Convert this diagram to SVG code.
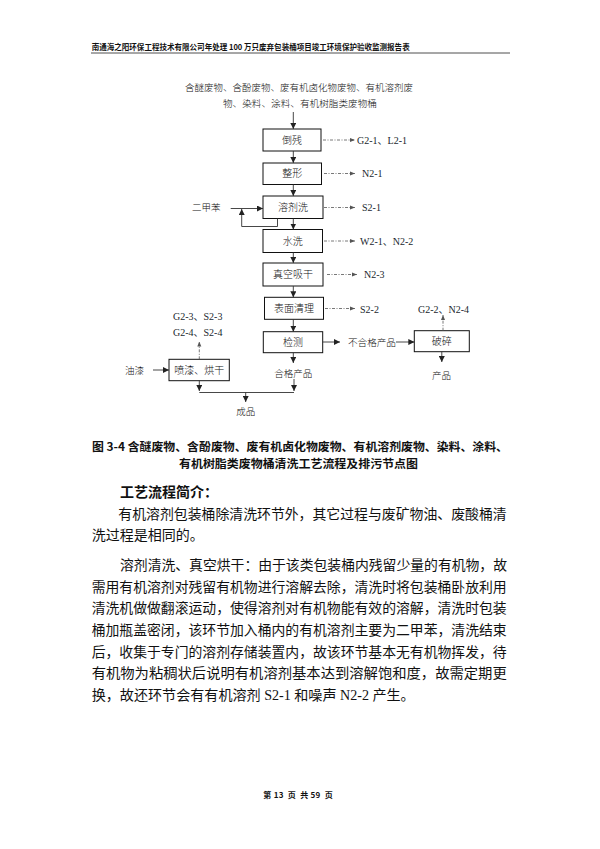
<svg xmlns="http://www.w3.org/2000/svg" width="600" height="849" viewBox="0 0 600 849">
<style>
.cn{font-family:"Noto Sans CJK SC","Liberation Sans",sans-serif;fill:#111}
.lat{font-family:"Liberation Serif","Noto Sans CJK SC",serif;fill:#1a1f2e}
.box{fill:#fff;stroke:#111;stroke-width:1}
.bl{font-family:"Noto Sans CJK SC",sans-serif;font-size:10px;fill:#111;text-anchor:middle;font-weight:300}
.ln{fill:none;stroke:#333;stroke-width:0.9}
.dt{fill:none;stroke:#555;stroke-width:0.8;stroke-dasharray:3,1.5,1,1.5}
.body{font-family:"Liberation Serif","Noto Sans CJK SC",serif;font-size:14px;fill:#111}
.lt{font-weight:300}
</style>
<defs>
<marker id="ah" markerUnits="userSpaceOnUse" markerWidth="6" markerHeight="6" refX="6" refY="3" orient="auto">
<path d="M0,0 L6,3 L0,6 z" fill="#222"/>
</marker>
<marker id="ahs" markerUnits="userSpaceOnUse" markerWidth="5" markerHeight="5" refX="5" refY="2.5" orient="auto">
<path d="M0,0.5 L5,2.5 L0,4.5 z" fill="#555"/>
</marker>
</defs>
<rect width="600" height="849" fill="#fff"/>

<g id="header">
<text class="cn" x="91.7" y="49.5" font-size="8" font-weight="bold" textLength="318" lengthAdjust="spacingAndGlyphs">南通海之阳环保工程技术有限公司年处理 100 万只废弃包装桶项目竣工环境保护验收监测报告表</text>
<line x1="91" y1="53" x2="510" y2="53" stroke="#222" stroke-width="0.8"/>
</g>

<g id="input">
<text class="cn lt" x="185" y="90.5" font-size="9.3" textLength="228" lengthAdjust="spacingAndGlyphs">含醚废物、含酚废物、废有机卤化物废物、有机溶剂废</text>
<text class="cn lt" x="223" y="106.5" font-size="9.3" textLength="154" lengthAdjust="spacingAndGlyphs">物、染料、涂料、有机树脂类废物桶</text>
</g>

<g id="n-daocan"><rect class="box" x="263" y="129" width="58" height="22"/><text class="bl" x="292" y="143.5">倒残</text></g>
<g id="n-zhengxing"><rect class="box" x="263" y="163" width="58.5" height="21.5"/><text class="bl" x="292.2" y="177.3">整形</text></g>
<g id="n-rongjixi"><rect class="box" x="263" y="196" width="60" height="22.5"/><text class="bl" x="293" y="210.7">溶剂洗</text></g>
<g id="n-shuixi"><rect class="box" x="263" y="229.5" width="59.5" height="23"/><text class="bl" x="292.7" y="244.5">水洗</text></g>
<g id="n-zhenkong"><rect class="box" x="263" y="263" width="60" height="23"/><text class="bl" x="293" y="278">真空吸干</text></g>
<g id="n-biaomian"><rect class="box" x="264.5" y="297.3" width="59" height="22"/><text class="bl" x="294" y="311.8">表面清理</text></g>
<g id="n-jiance"><rect class="box" x="263.3" y="331.7" width="59.4" height="21"/><text class="bl" x="293" y="345.7">检测</text></g>
<g id="n-posui"><rect class="box" x="414.3" y="330.7" width="55" height="21"/><text class="bl" x="441.8" y="344.7">破碎</text></g>
<g id="n-penqi"><rect class="box" x="169" y="359.3" width="60.3" height="21.4"/><text class="bl" x="199.2" y="373.5">喷漆、烘干</text></g>

<g id="labels">
<text class="lat" x="357" y="143.5" font-size="10">G2-1、L2-1</text>
<text class="lat" x="362" y="177" font-size="10">N2-1</text>
<text class="lat" x="362" y="211" font-size="10">S2-1</text>
<text class="lat" x="360" y="245" font-size="10">W2-1、N2-2</text>
<text class="lat" x="364" y="278" font-size="10">N2-3</text>
<text class="lat" x="360" y="312.5" font-size="10">S2-2</text>
<text class="lat" x="418" y="312.5" font-size="10">G2-2、N2-4</text>
<text class="lat" x="173" y="320" font-size="10">G2-3、S2-3</text>
<text class="lat" x="173" y="335.7" font-size="10">G2-4、S2-4</text>
<text class="cn lt" x="192" y="210.8" font-size="9.5">二甲苯</text>
<text class="cn lt" x="125" y="373.5" font-size="9.5">油漆</text>
<text class="cn lt" x="348" y="345.5" font-size="9.6">不合格产品</text>
<text class="cn lt" x="293.3" y="376.5" font-size="9.5" text-anchor="middle">合格产品</text>
<text class="cn lt" x="441.5" y="378.5" font-size="9.5" text-anchor="middle">产品</text>
<text class="cn lt" x="245.7" y="415" font-size="9.5" text-anchor="middle">成品</text>
</g>

<g id="connectors">
<line class="ln" x1="293.3" y1="112" x2="293.3" y2="129" marker-end="url(#ah)"/>
<line class="ln" x1="293.3" y1="151" x2="293.3" y2="163" marker-end="url(#ah)"/>
<line class="ln" x1="293.3" y1="184.5" x2="293.3" y2="196" marker-end="url(#ah)"/>
<line class="ln" x1="293.3" y1="218.5" x2="293.3" y2="229.5" marker-end="url(#ah)"/>
<line class="ln" x1="293.3" y1="252.5" x2="293.3" y2="263" marker-end="url(#ah)"/>
<line class="ln" x1="293.3" y1="286" x2="293.3" y2="297.3" marker-end="url(#ah)"/>
<line class="ln" x1="293.3" y1="319.3" x2="293.3" y2="331.7" marker-end="url(#ah)"/>
<line class="ln" x1="293.3" y1="352.7" x2="293.3" y2="363" marker-end="url(#ah)"/>
<line class="ln" x1="230.7" y1="208.5" x2="263" y2="208.5" marker-end="url(#ah)"/>
<polyline class="ln" points="277.5,218.5 277.5,226.5 241.7,226.5 241.7,209" marker-end="url(#ah)"/>
<line class="ln" x1="322.7" y1="342" x2="340" y2="342" marker-end="url(#ah)"/>
<line class="ln" x1="396" y1="342" x2="414.3" y2="342" marker-end="url(#ah)"/>
<line class="ln" x1="441.8" y1="351.7" x2="441.8" y2="362" marker-end="url(#ah)"/>
<line class="ln" x1="153" y1="370" x2="169" y2="370" marker-end="url(#ah)"/>
<line class="ln" x1="199.3" y1="380.7" x2="199.3" y2="391" marker-end="url(#ah)"/>
<line class="ln" x1="294" y1="379" x2="294" y2="391" marker-end="url(#ah)"/>
<line class="ln" x1="199.3" y1="392.5" x2="294" y2="392.5"/>
<line class="ln" x1="245.7" y1="392.5" x2="245.7" y2="402" marker-end="url(#ah)"/>
<line class="dt" x1="323" y1="140" x2="355" y2="140" marker-end="url(#ahs)"/>
<line class="dt" x1="324" y1="173.5" x2="355" y2="173.5" marker-end="url(#ahs)"/>
<line class="dt" x1="324" y1="207.5" x2="355" y2="207.5" marker-end="url(#ahs)"/>
<line class="dt" x1="324" y1="241" x2="355" y2="241" marker-end="url(#ahs)"/>
<line class="dt" x1="327" y1="274.5" x2="357" y2="274.5" marker-end="url(#ahs)"/>
<line class="dt" x1="325" y1="308.5" x2="355" y2="308.5" marker-end="url(#ahs)"/>
<line class="dt" x1="443" y1="330.7" x2="443" y2="315" marker-end="url(#ahs)"/>
<line class="dt" x1="199.3" y1="359.3" x2="199.3" y2="341.5" marker-end="url(#ahs)"/>
</g>

<g id="caption">
<text class="cn" x="92" y="451" font-size="11.5" font-weight="bold" textLength="416" lengthAdjust="spacingAndGlyphs">图 3-4  含醚废物、含酚废物、废有机卤化物废物、有机溶剂废物、染料、涂料、</text>
<text class="cn" x="179" y="468" font-size="11.5" font-weight="bold" textLength="239" lengthAdjust="spacingAndGlyphs">有机树脂类废物桶清洗工艺流程及排污节点图</text>
</g>

<g id="body">
<text class="body" x="120" y="497" font-weight="bold" textLength="98" lengthAdjust="spacingAndGlyphs">工艺流程简介：</text>
<text class="body" x="118.3" y="518.5" textLength="388.4" lengthAdjust="spacingAndGlyphs">有机溶剂包装桶除清洗环节外，其它过程与废矿物油、废酸桶清</text>
<text class="body" x="91.7" y="540" textLength="112" lengthAdjust="spacingAndGlyphs">洗过程是相同的。</text>
<text class="body" x="120" y="570" textLength="387" lengthAdjust="spacingAndGlyphs">溶剂清洗、真空烘干：由于该类包装桶内残留少量的有机物，故</text>
<text class="body" x="91.7" y="591.7" textLength="415" lengthAdjust="spacingAndGlyphs">需用有机溶剂对残留有机物进行溶解去除，清洗时将包装桶卧放利用</text>
<text class="body" x="91.7" y="613.3" textLength="415" lengthAdjust="spacingAndGlyphs">清洗机做做翻滚运动，使得溶剂对有机物能有效的溶解，清洗时包装</text>
<text class="body" x="91.7" y="635" textLength="415" lengthAdjust="spacingAndGlyphs">桶加瓶盖密闭，该环节加入桶内的有机溶剂主要为二甲苯，清洗结束</text>
<text class="body" x="91.7" y="656.7" textLength="415" lengthAdjust="spacingAndGlyphs">后，收集于专门的溶剂存储装置内，故该环节基本无有机物挥发，待</text>
<text class="body" x="91.7" y="678.3" textLength="415" lengthAdjust="spacingAndGlyphs">有机物为粘稠状后说明有机溶剂基本达到溶解饱和度，故需定期更</text>
<text class="body" x="91.7" y="700" textLength="323" lengthAdjust="spacingAndGlyphs">换，故还环节会有有机溶剂 S2-1 和噪声 N2-2 产生。</text>
</g>

<g id="footer">
<text class="cn" x="263.3" y="798" font-size="8" font-weight="bold" xml:space="preserve" textLength="69.4" lengthAdjust="spacing">第 13  页  共 59  页</text>
</g>
</svg>
